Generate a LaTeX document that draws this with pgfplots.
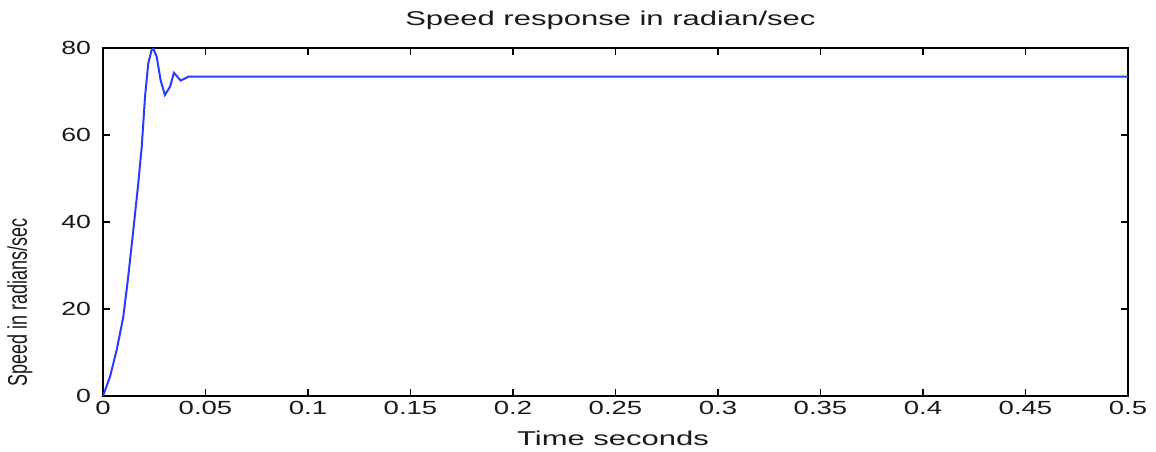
\documentclass[border=0pt]{standalone}
\usepackage{pgfplots}
\pgfplotsset{compat=1.18}
\usepackage{fontspec}
\setmainfont{Liberation Sans}
\begin{document}
\begin{tikzpicture}
\begin{axis}[
  scale only axis,
  width=512.5pt, height=174pt,
  xmin=0, xmax=0.5, ymin=0, ymax=80,
  xtick={0,0.05,...,0.5},
  ytick={0,20,40,60,80},
  tick align=inside,
  tick pos=both,
  major tick length=3.5pt,
  tick style={black, line width=0.6pt},
  axis line style={black, line width=0.9pt},
  /pgf/number format/assume math mode=true,
  ticklabel style={font=\fontsize{9.5}{11}\selectfont, text=black!90},
  xticklabel style={anchor=center, yshift=-6pt},
  xticklabels={\scalebox{1.45}[1]{0},\scalebox{1.45}[1]{0.05},\scalebox{1.45}[1]{0.1},\scalebox{1.45}[1]{0.15},\scalebox{1.45}[1]{0.2},\scalebox{1.45}[1]{0.25},\scalebox{1.45}[1]{0.3},\scalebox{1.45}[1]{0.35},\scalebox{1.45}[1]{0.4},\scalebox{1.45}[1]{0.45},\scalebox{1.45}[1]{0.5}},
  yticklabels={\scalebox{1.4}[1]{0},\scalebox{1.4}[1]{20},\scalebox{1.4}[1]{40},\scalebox{1.4}[1]{60},\scalebox{1.4}[1]{80}},
  yticklabel style={anchor=east, xshift=-2.5pt},
  title={\scalebox{1.55}[1]{Speed response in radian/sec}},
  title style={font=\fontsize{10}{12}\selectfont, text=black!90, at={(axis description cs:0.495,1)}, anchor=center, yshift=8pt},
  xlabel={\scalebox{1.55}[1]{Time seconds}},
  xlabel style={font=\fontsize{10}{12}\selectfont, text=black!90, at={(axis description cs:0.4976,0)}, anchor=center, yshift=-21pt},
  ylabel={\scalebox{1}[1.5]{Speed in radians/sec}},
  ylabel style={font=\fontsize{9}{11}\selectfont, text=black!90, at={(axis description cs:-0.081,0.27)}, anchor=center},
]
\addplot[color={rgb,255:red,40;green,60;blue,255}, line width=1pt] coordinates {
(0,0) (0.0034,4.4) (0.0067,10.6) (0.0099,18.2) (0.0123,27.4) (0.0148,38.2)
(0.0172,48.9) (0.0189,57.3) (0.0205,68.8) (0.0221,76.5) (0.0237,79.5)
(0.0245,79.9) (0.0262,78) (0.0281,72.6) (0.0302,69.2) (0.0327,71.1)
(0.0346,74.3) (0.0363,73.4) (0.0379,72.5) (0.04,73) (0.0416,73.4) (0.5,73.4)
};
\end{axis}
\pgfresetboundingbox
\path[use as bounding box] ([xshift=-51.5pt,yshift=-27.5pt]current axis.south west) rectangle ([xshift=14pt,yshift=24pt]current axis.north east);
\end{tikzpicture}
\end{document}
